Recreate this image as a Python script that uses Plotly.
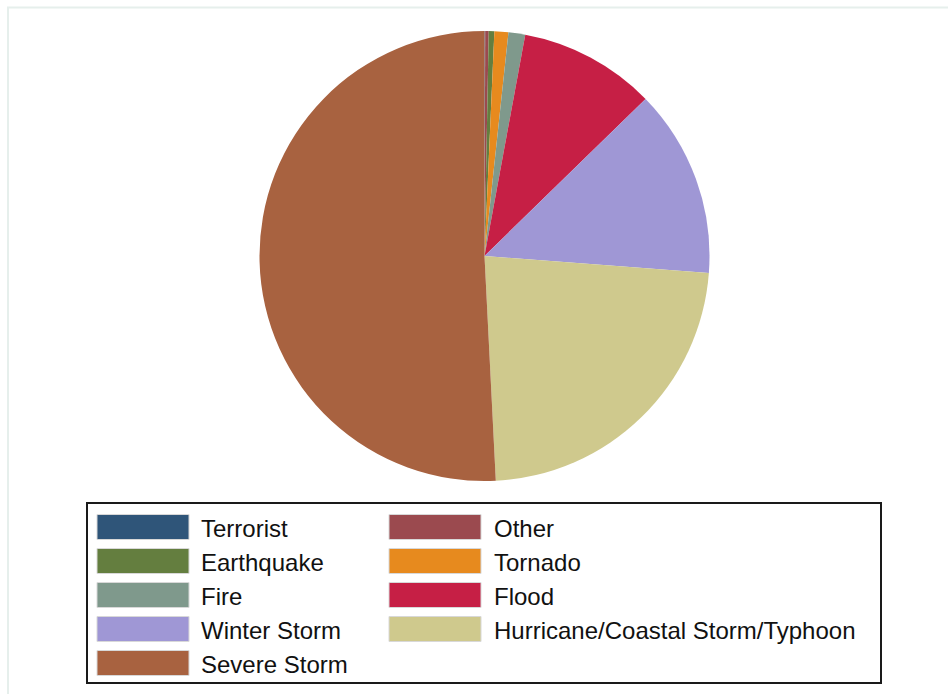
import plotly.graph_objects as go

# Share of declared disasters by incident type (percent)
categories = [
    "Terrorist", "Other", "Earthquake", "Tornado", "Fire",
    "Flood", "Winter Storm", "Hurricane/Coastal Storm/Typhoon", "Severe Storm",
]
shares = [0.05, 0.25, 0.4, 1.0, 1.2, 9.8, 13.5, 23.0, 50.8]
colors = [
    "#2F5579", "#9B4A4F", "#647E3F", "#E78A1E", "#7F998C",
    "#C61F45", "#9F97D5", "#CFC98D", "#A86240",
]

# Legend entries are laid out row by row, two per row
legend_order = [
    "Terrorist", "Other",
    "Earthquake", "Tornado",
    "Fire", "Flood",
    "Winter Storm", "Hurricane/Coastal Storm/Typhoon",
    "Severe Storm",
]

W, H = 948, 694


def px(x):
    return x / W


def py(y):
    return 1 - y / H


fig = go.Figure(
    go.Pie(
        labels=categories,
        values=shares,
        sort=False,
        direction="clockwise",
        rotation=0,
        marker=dict(colors=colors, line=dict(width=0)),
        textinfo="none",
        hoverinfo="label+percent",
        showlegend=False,
        domain=dict(x=[px(259.5), px(709.5)], y=[py(481), py(31)]),
    )
)

shapes = [
    # faint outer frame
    dict(type="rect", xref="paper", yref="paper",
         x0=px(8), y0=py(7.5), x1=px(W + 20), y1=py(H + 20),
         line=dict(color="#E6EFEC", width=2), fillcolor="rgba(0,0,0,0)", layer="below"),
    # legend box
    dict(type="rect", xref="paper", yref="paper",
         x0=px(87), y0=py(503), x1=px(881), y1=py(683),
         line=dict(color="#1A1A1A", width=2), fillcolor="white"),
]
annotations = []

color_of = dict(zip(categories, colors))
col_swatch_x = [97, 389]
col_text_x = [199, 492]
row_y0 = 527
row_step = 34
for i, name in enumerate(legend_order):
    row, col = divmod(i, 2)
    cy = row_y0 + row * row_step
    sx = col_swatch_x[col]
    shapes.append(dict(
        type="rect", xref="paper", yref="paper",
        x0=px(sx), x1=px(sx + 92), y0=py(cy - 12.5), y1=py(cy + 12.5),
        fillcolor=color_of[name], line=dict(color="#D8D8D8", width=1),
    ))
    annotations.append(dict(
        xref="paper", yref="paper", x=px(col_text_x[col]), y=py(cy + 1),
        text=name, showarrow=False, xanchor="left", yanchor="middle",
        font=dict(family="Liberation Sans, Arial, sans-serif", size=24, color="#111111"),
    ))

fig.update_layout(
    width=W, height=H,
    margin=dict(l=0, r=0, t=0, b=0),
    paper_bgcolor="white",
    plot_bgcolor="white",
    shapes=shapes,
    annotations=annotations,
)

fig.write_html("out.html")
